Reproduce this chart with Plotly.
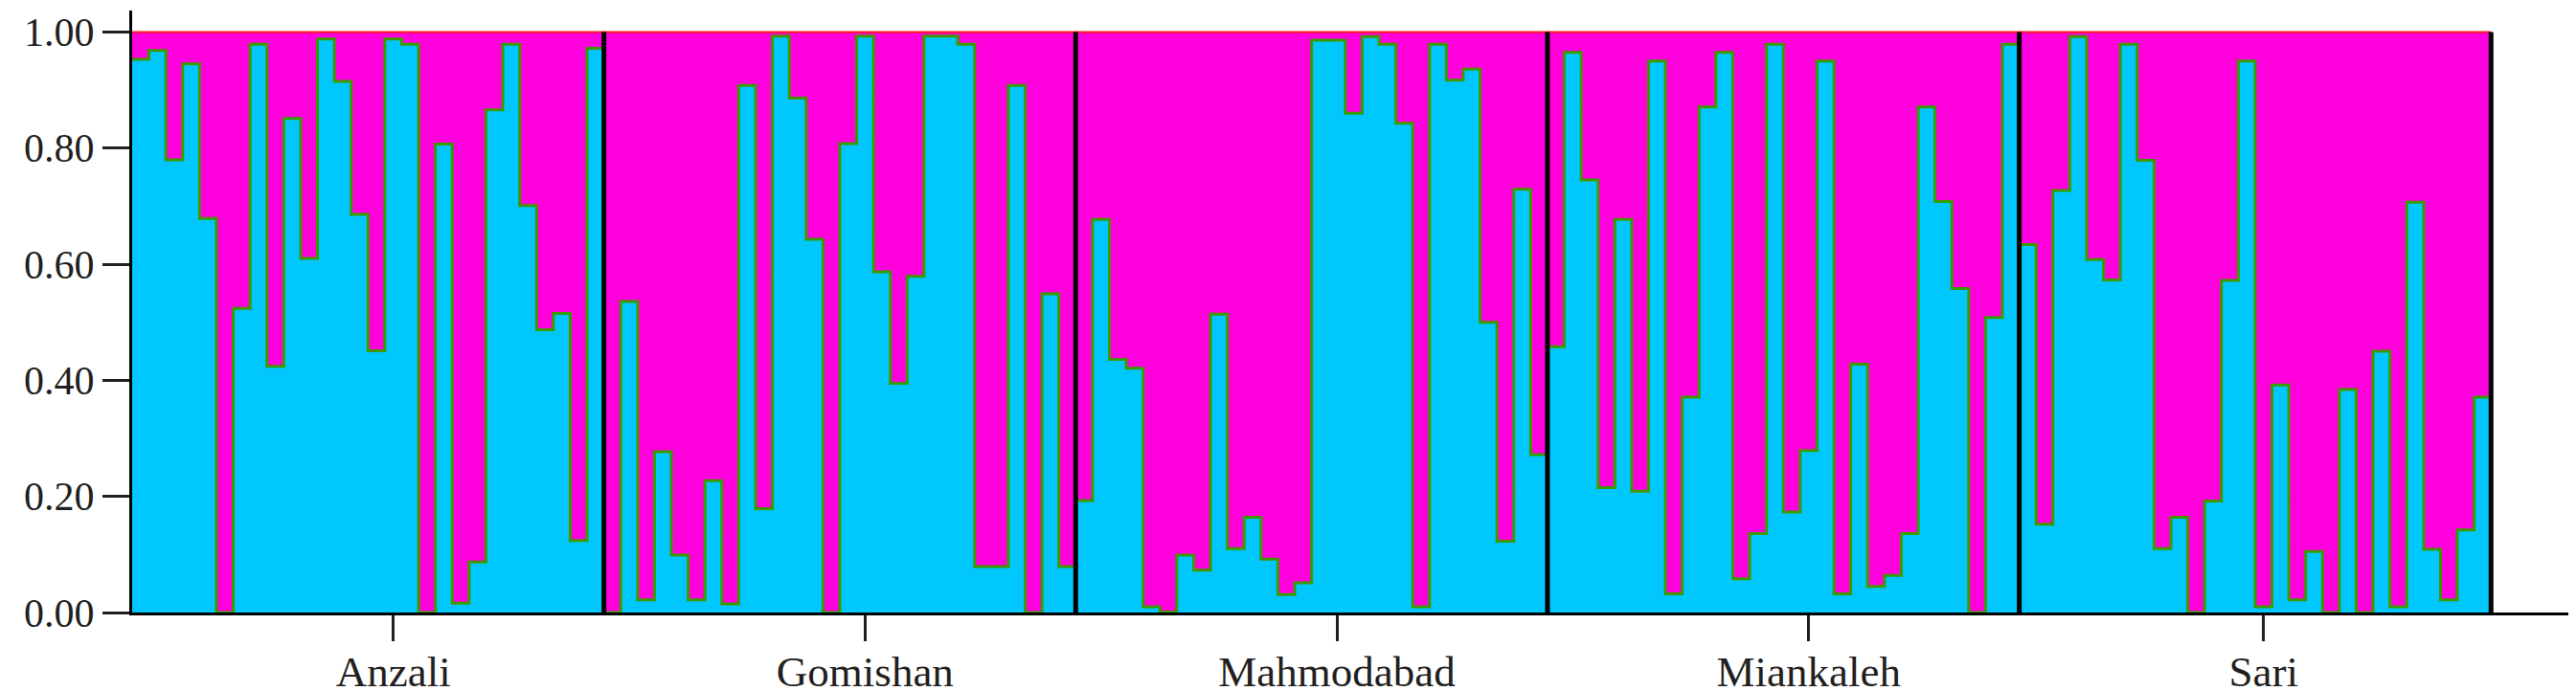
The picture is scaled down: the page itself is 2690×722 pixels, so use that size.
import plotly.graph_objects as go

# STRUCTURE-style admixture barplot, K=2 (cyan = cluster 1, magenta = cluster 2)
populations = ['Anzali', 'Gomishan', 'Mahmodabad', 'Miankaleh', 'Sari']

anzali = [0.953, 0.968, 0.780, 0.945, 0.679, 0.0, 0.524, 0.979, 0.424, 0.851,
          0.610, 0.988, 0.915, 0.686, 0.451, 0.988, 0.979, 0.0, 0.807, 0.016,
          0.087, 0.866, 0.979, 0.701, 0.487, 0.515, 0.124, 0.972]
gomishan = [0.0, 0.536, 0.022, 0.277, 0.099, 0.022, 0.227, 0.015, 0.908, 0.179,
            0.993, 0.886, 0.643, 0.0, 0.808, 0.993, 0.587, 0.395, 0.579, 0.993,
            0.993, 0.979, 0.079, 0.079, 0.908, 0.0, 0.549, 0.079]
mahmodabad = [0.193, 0.677, 0.436, 0.421, 0.010, 0.001, 0.099, 0.073, 0.514, 0.110,
              0.164, 0.092, 0.031, 0.051, 0.986, 0.986, 0.860, 0.992, 0.979, 0.843,
              0.010, 0.979, 0.917, 0.936, 0.500, 0.123, 0.729, 0.272]
miankaleh = [0.458, 0.965, 0.745, 0.215, 0.677, 0.209, 0.950, 0.032, 0.371, 0.871,
             0.965, 0.058, 0.136, 0.979, 0.173, 0.279, 0.950, 0.032, 0.428, 0.045,
             0.064, 0.136, 0.871, 0.708, 0.558, 0.0, 0.508, 0.979]
sari = [0.634, 0.152, 0.727, 0.992, 0.608, 0.573, 0.979, 0.779, 0.110, 0.164,
        0.0, 0.192, 0.572, 0.950, 0.010, 0.392, 0.022, 0.105, 0.0, 0.384,
        0.0, 0.450, 0.010, 0.707, 0.109, 0.022, 0.142, 0.371]

groups = [anzali, gomishan, mahmodabad, miankaleh, sari]
# where the population label tick sits inside each group (in individuals)
label_offsets = [15.5, 15.5, 15.5, 15.5, 14.5]

q1 = [v for g in groups for v in g]
n = len(q1)
edges = list(range(n + 1))
starts = [0]
for g in groups:
    starts.append(starts[-1] + len(g))

fig = go.Figure()

# cluster 2 fills everything up to 1.0
fig.add_trace(go.Scatter(x=[0, n], y=[1, 1], mode='lines', fill='tozeroy',
                         fillcolor='#ff00dc', line=dict(color='#ff1a1a', width=2),
                         hoverinfo='skip', showlegend=False))

# cluster 1 as a step outline
fig.add_trace(go.Scatter(x=edges, y=q1 + [q1[-1]], mode='lines', line_shape='hv',
                         fill='tozeroy', fillcolor='#00c8ff',
                         line=dict(color='#3c9a00', width=3),
                         hoverinfo='skip', showlegend=False))

# black separators between populations and at the right end
for s in starts[1:]:
    fig.add_shape(type='line', x0=s, x1=s, y0=0, y1=1, xref='x', yref='y',
                  line=dict(color='black', width=5))

ytick_font = dict(family='Liberation Serif', size=42, color='#231f20')
xtick_font = dict(family='Liberation Serif', size=45, color='#231f20')

fig.update_layout(
    width=2690, height=722,
    margin=dict(l=130, r=7, t=3, b=79),
    plot_bgcolor='white', paper_bgcolor='white',
    showlegend=False,
    xaxis=dict(range=[0, 145.1], showgrid=False, zeroline=False,
               showline=True, linecolor='black', linewidth=3,
               ticks='outside', ticklen=27, tickwidth=3, tickcolor='#231f20',
               tickvals=[s + o for s, o in zip(starts[:-1], label_offsets)],
               ticktext=populations, tickfont=xtick_font,
               ticklabelstandoff=-7),
    yaxis=dict(range=[0, 1.037], showgrid=False, zeroline=False,
               showline=True, linecolor='black', linewidth=3,
               ticks='outside', ticklen=28, tickwidth=3, tickcolor='#231f20',
               tickvals=[0, 0.2, 0.4, 0.6, 0.8, 1.0], tickformat='.2f',
               tickfont=ytick_font),
)

fig.write_html("out.html")
